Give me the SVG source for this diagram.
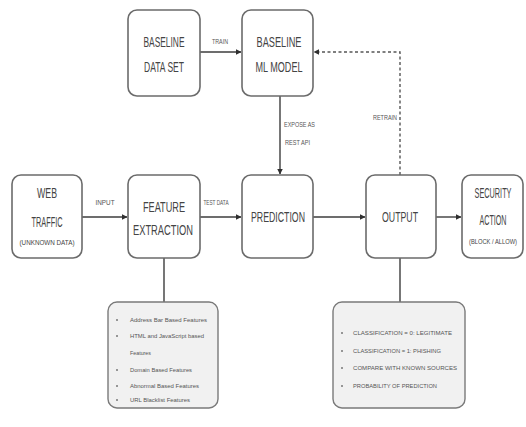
<svg xmlns="http://www.w3.org/2000/svg" width="526" height="427" viewBox="0 0 526 427">
  <style>
    .box { fill: #ffffff; stroke: #6b6b6b; stroke-width: 1.6; }
    .list { fill: #f1f1f1; stroke: #7a7a7a; stroke-width: 1.4; }
    .t { font-family: "Liberation Sans", Arial, sans-serif; fill: #444; text-anchor: middle; }
    .title { font-size: 9.5px; }
    .sub { font-size: 6px; }
    .lbl { font-family: "Liberation Sans", Arial, sans-serif; font-size: 5px; fill: #555; }
    .item { font-family: "Liberation Sans", Arial, sans-serif; font-size: 6px; fill: #555; }
    .edge { fill: none; stroke: #3d3d3d; stroke-width: 1.4; }
    .dash { stroke-dasharray: 3 2.5; stroke: #555; }
    .bullet { fill: #777; }
  </style>
  <defs>
    <marker id="arrow" viewBox="0 0 6 6" refX="5.5" refY="3" markerWidth="4" markerHeight="4" orient="auto-start-reverse">
      <path d="M0,0 L6,3 L0,6 z" fill="#2f2f2f"/>
    </marker>
  </defs>
  <rect width="526" height="427" fill="#ffffff"/>

  <!-- connectors -->
  <g id="connectors">
    <line class="edge" x1="200" y1="52" x2="241" y2="52" marker-end="url(#arrow)"/>
    <line class="edge" x1="280" y1="96" x2="280" y2="174" marker-end="url(#arrow)"/>
    <line class="edge" x1="82" y1="217" x2="127" y2="217" marker-end="url(#arrow)"/>
    <line class="edge" x1="200" y1="217" x2="241" y2="217" marker-end="url(#arrow)"/>
    <line class="edge" x1="313" y1="217" x2="365" y2="217" marker-end="url(#arrow)"/>
    <line class="edge" x1="436" y1="217" x2="461" y2="217" marker-end="url(#arrow)"/>
    <polyline class="edge dash" points="400,175 400,52 314,52" marker-end="url(#arrow)"/>
    <line class="edge" x1="164" y1="258" x2="164" y2="302" stroke="#666"/>
    <line class="edge" x1="400" y1="258" x2="400" y2="302" stroke="#666"/>

    <text class="lbl" transform="translate(220,44) scale(1,1.3)" text-anchor="middle" textLength="16" lengthAdjust="spacingAndGlyphs">TRAIN</text>
    <text class="lbl" transform="translate(105,205) scale(1,1.3)" text-anchor="middle" textLength="19" lengthAdjust="spacingAndGlyphs">INPUT</text>
    <text class="lbl" transform="translate(216,205) scale(1,1.3)" text-anchor="middle" textLength="25" lengthAdjust="spacingAndGlyphs">TEST DATA</text>
    <text class="lbl" transform="translate(284,127) scale(1,1.3)" textLength="31" lengthAdjust="spacingAndGlyphs">EXPOSE AS</text>
    <text class="lbl" transform="translate(285,145) scale(1,1.3)" textLength="25" lengthAdjust="spacingAndGlyphs">REST API</text>
    <text class="lbl" transform="translate(373,120) scale(1,1.3)" textLength="24" lengthAdjust="spacingAndGlyphs">RETRAIN</text>
  </g>

  <!-- nodes: titles use a tall, narrow letter shape -->
  <g id="baseline-dataset">
    <rect class="box" x="128" y="10" width="72" height="86" rx="9"/>
    <text class="t title" transform="translate(164,47) scale(1,1.45)" textLength="41" lengthAdjust="spacingAndGlyphs">BASELINE</text>
    <text class="t title" transform="translate(164,72) scale(1,1.45)" textLength="40" lengthAdjust="spacingAndGlyphs">DATA SET</text>
  </g>

  <g id="baseline-model">
    <rect class="box" x="242" y="10" width="71" height="86" rx="9"/>
    <text class="t title" transform="translate(279,47) scale(1,1.45)" textLength="45" lengthAdjust="spacingAndGlyphs">BASELINE</text>
    <text class="t title" transform="translate(279,72) scale(1,1.45)" textLength="47" lengthAdjust="spacingAndGlyphs">ML MODEL</text>
  </g>

  <g id="web-traffic">
    <rect class="box" x="12" y="175" width="70" height="83" rx="9"/>
    <text class="t title" transform="translate(47,198) scale(1,1.45)" textLength="20" lengthAdjust="spacingAndGlyphs">WEB</text>
    <text class="t title" transform="translate(47,227) scale(1,1.45)" textLength="31" lengthAdjust="spacingAndGlyphs">TRAFFIC</text>
    <text class="t sub" transform="translate(47,245) scale(1,1.25)" textLength="55" lengthAdjust="spacingAndGlyphs">(UNKNOWN DATA)</text>
  </g>

  <g id="feature-extraction">
    <rect class="box" x="128" y="175" width="72" height="83" rx="9"/>
    <text class="t title" transform="translate(164,212) scale(1,1.45)" textLength="42" lengthAdjust="spacingAndGlyphs">FEATURE</text>
    <text class="t title" transform="translate(163,235) scale(1,1.45)" textLength="60" lengthAdjust="spacingAndGlyphs">EXTRACTION</text>
  </g>

  <g id="prediction">
    <rect class="box" x="242" y="175" width="71" height="83" rx="9"/>
    <text class="t title" transform="translate(278,222) scale(1,1.45)" textLength="54" lengthAdjust="spacingAndGlyphs">PREDICTION</text>
  </g>

  <g id="output">
    <rect class="box" x="366" y="175" width="70" height="83" rx="9"/>
    <text class="t title" transform="translate(400,222) scale(1,1.45)" textLength="36" lengthAdjust="spacingAndGlyphs">OUTPUT</text>
  </g>

  <g id="security-action">
    <rect class="box" x="462" y="175" width="61" height="83" rx="9"/>
    <text class="t title" transform="translate(493,198) scale(1,1.45)" textLength="37" lengthAdjust="spacingAndGlyphs">SECURITY</text>
    <text class="t title" transform="translate(493,225) scale(1,1.45)" textLength="27" lengthAdjust="spacingAndGlyphs">ACTION</text>
    <text class="t sub" transform="translate(493,244) scale(1,1.25)" textLength="48" lengthAdjust="spacingAndGlyphs">(BLOCK / ALLOW)</text>
  </g>

  <g id="feature-list">
    <rect class="list" x="108" y="302" width="110" height="106" rx="9"/>
    <circle class="bullet" cx="117" cy="320" r="1"/>
    <text class="item" x="130" y="322" textLength="77" lengthAdjust="spacingAndGlyphs">Address Bar Based Features</text>
    <circle class="bullet" cx="117" cy="336" r="1"/>
    <text class="item" x="130" y="338" textLength="74" lengthAdjust="spacingAndGlyphs">HTML and JavaScript based</text>
    <text class="item" x="130" y="355" textLength="21" lengthAdjust="spacingAndGlyphs">Features</text>
    <circle class="bullet" cx="117" cy="370" r="1"/>
    <text class="item" x="130" y="372" textLength="62" lengthAdjust="spacingAndGlyphs">Domain Based Features</text>
    <circle class="bullet" cx="117" cy="386" r="1"/>
    <text class="item" x="130" y="388" textLength="69" lengthAdjust="spacingAndGlyphs">Abnormal Based Features</text>
    <circle class="bullet" cx="117" cy="400" r="1"/>
    <text class="item" x="130" y="402" textLength="60" lengthAdjust="spacingAndGlyphs">URL Blacklist Features</text>
  </g>

  <g id="output-list">
    <rect class="list" x="333" y="302" width="132" height="106" rx="9"/>
    <circle class="bullet" cx="342" cy="333" r="1"/>
    <text class="item" x="353" y="335" textLength="99" lengthAdjust="spacingAndGlyphs">CLASSIFICATION = 0: LEGITIMATE</text>
    <circle class="bullet" cx="342" cy="351" r="1"/>
    <text class="item" x="353" y="353" textLength="88" lengthAdjust="spacingAndGlyphs">CLASSIFICATION = 1: PHISHING</text>
    <circle class="bullet" cx="342" cy="368" r="1"/>
    <text class="item" x="353" y="370" textLength="104" lengthAdjust="spacingAndGlyphs">COMPARE WITH KNOWN SOURCES</text>
    <circle class="bullet" cx="342" cy="386" r="1"/>
    <text class="item" x="353" y="388" textLength="84" lengthAdjust="spacingAndGlyphs">PROBABILITY OF PREDICTION</text>
  </g>
</svg>
